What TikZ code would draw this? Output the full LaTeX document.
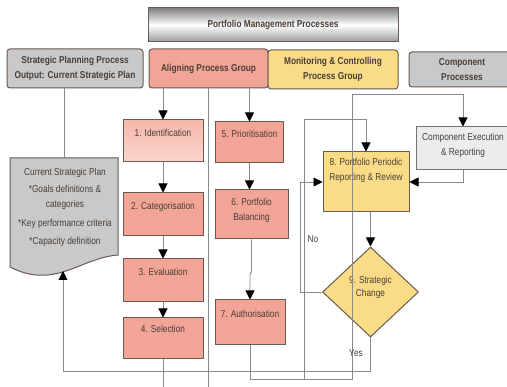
\documentclass[tikz,border=0pt]{standalone}
\usepackage{fontspec}
\setmainfont{Liberation Sans}[FakeStretch=0.83]
\usepackage{tikz}
\usetikzlibrary{shapes, arrows.meta}

\definecolor{salmon}{HTML}{F2A596}
\definecolor{salmonlt}{HTML}{F6B8AC}
\definecolor{salmonpale}{HTML}{FBD6CF}
\definecolor{butter}{HTML}{FBDC86}
\definecolor{greybox}{HTML}{C9C9C9}
\definecolor{greylt}{HTML}{ECECEC}
\definecolor{edge}{HTML}{6A5A50}
\definecolor{wirec}{HTML}{8A8A8A}
\definecolor{ink}{HTML}{4A3E36}

\begin{document}
\begin{tikzpicture}[x=1pt, y=-1pt,
    font=\fontsize{10}{15}\selectfont, text=ink,
    hdr/.style={draw=edge, line width=1pt, rounded corners=3pt, inner sep=0pt, align=center, font=\fontsize{10}{15}\selectfont\bfseries},
    box/.style={draw=edge, line width=1pt, fill=salmon, inner sep=0pt},
    lbl/.style={anchor=north, inner sep=0pt, align=center},
    conn/.style={draw=wirec, line width=0.9pt, -{Triangle[length=9pt, width=9pt, color=black]}},
    wire/.style={draw=wirec, line width=0.9pt}]
    %\draw[help lines, step=20] (0,0) grid (507,387);

    \useasboundingbox (0,0) rectangle (507,387);
    \fill[white] (0,0) rectangle (507,387);

    \node[draw=edge, line width=1pt, top color=black!50, bottom color=black!40, middle color=white, minimum width=250, minimum height=34, font=\fontsize{10}{15}\selectfont\bfseries] (title) at (273,25) {Portfolio Management Processes};

    \node[hdr, fill=greybox, minimum width=136, minimum height=39] (sp) at (75,68.5) {Strategic Planning Process\\Output: Current Strategic Plan};
    \node[hdr, fill=salmon, minimum width=119, minimum height=39] (ap) at (208.5,68.5) {Aligning Process Group};
    \node[hdr, fill=butter, minimum width=130, minimum height=39] (mc) at (333,69.5) {Monitoring \& Controlling\\Process Group};
    \node[hdr, fill=greybox, minimum width=106, minimum height=35] (cp) at (462,69.5) {Component\\Processes};

    % current strategic plan (document shape)
    \draw[draw=edge, line width=1pt, fill=greybox] (10,158) -- (118,158) -- (118,255)
        .. controls (80,258) and (55,290) .. (10,267) -- cycle;
    \coordinate (plantop) at (64,158);
    \coordinate (planbot) at (63,271);
    \node[lbl] (plan) at (65,168) {Current Strategic Plan\\[2pt]*Goals definitions \&\\categories\\[4pt]*Key performance criteria\\[3pt]*Capacity definition};

    \node[box, top color=salmonlt, bottom color=salmonpale, minimum width=80, minimum height=42] (b1) at (163,141) {};
    \node[box, minimum width=80, minimum height=43] (b2) at (163,214.5) {};
    \node[box, minimum width=80, minimum height=43] (b3) at (163,280.5) {};
    \node[box, minimum width=80, minimum height=41] (b4) at (163,338.5) {};
    \node[box, minimum width=68, minimum height=41] (b5) at (249.5,142.5) {};
    \node[box, minimum width=73, minimum height=49] (b6) at (251.5,214.5) {};
    \node[box, minimum width=70, minimum height=45] (b7) at (250,322.5) {};
    \node[box, fill=butter, minimum width=86, minimum height=60] (b8) at (366,182) {};
    \node[box, draw=black!55, fill=greylt, minimum width=94, minimum height=43] (ce) at (463,148.5) {};
    \node[box, diamond, fill=butter, minimum width=96, minimum height=90] (d9) at (370.5,292) {};

    \path (b1.north) ++(0,10) node[lbl] (t1) {1. Identification};
    \path (b2.north) ++(0,10) node[lbl] (t2) {2. Categorisation};
    \path (b3.north) ++(0,10) node[lbl] (t3) {3. Evaluation};
    \path (b4.north) ++(0,8) node[lbl] (t4) {4. Selection};
    \path (b5.north) ++(0,9) node[lbl] (t5) {5. Prioritisation};
    \path (b6.north) ++(0,9) node[lbl] (t6) {6. Portfolio\\Balancing};
    \path (b7.north) ++(0,11) node[lbl] (t7) {7. Authorisation};
    \path (b8.north) ++(0,7) node[lbl] (t8) {8. Portfolio Periodic\\Reporting \& Review};
    \path (ce.center) ++(0,-3) node[inner sep=0pt, align=center] (tce) {Component Execution\\\& Reporting};
    \path (d9.center) ++(0,-5) node[inner sep=0pt, align=center] (t9) {9. Strategic\\[-2pt]Change};

    % flow
    \draw[wire] (sp.south -| plantop) -- (plantop);
    \draw[wire] (ap.south) -- ++(0,320);
    \draw[conn] (ap.south -| b1.north) -- (b1.north);
    \draw[conn] (ap.south -| b5.north) -- (b5.north);
    \draw[conn] (b1) -- (b2);
    \draw[conn] (b2) -- (b3);
    \draw[conn] (b3) -- (b4);
    \draw[wire] (b4.south) -- ++(0,35);
    \draw[conn] (b5.south) -- (b5.south |- b6.north);
    \draw[conn] (b6.south) -- ++(0,32) -- ++(-1.5,3) -- (b7.north);

    \draw[conn] (b7.south) |- (352,379) -- (352,94) -| (ce.north);
    \coordinate (j7) at (304,379);
    \draw[conn] (j7) -- (304,119) -| (b8.north);
    \draw[conn] (ce.south) |- (b8.east);
    \draw[conn] (b8.south -| d9.north) -- (d9.north);
    \draw[conn] (d9.west) -- ++(-22,0) |- (b8.west);
    \draw[conn] (d9.south) -- ++(0,34) -| (planbot);

    \node (no) at (313,239) {No};
    \node (yes) at (356,353) {Yes};
\end{tikzpicture}
\end{document}
